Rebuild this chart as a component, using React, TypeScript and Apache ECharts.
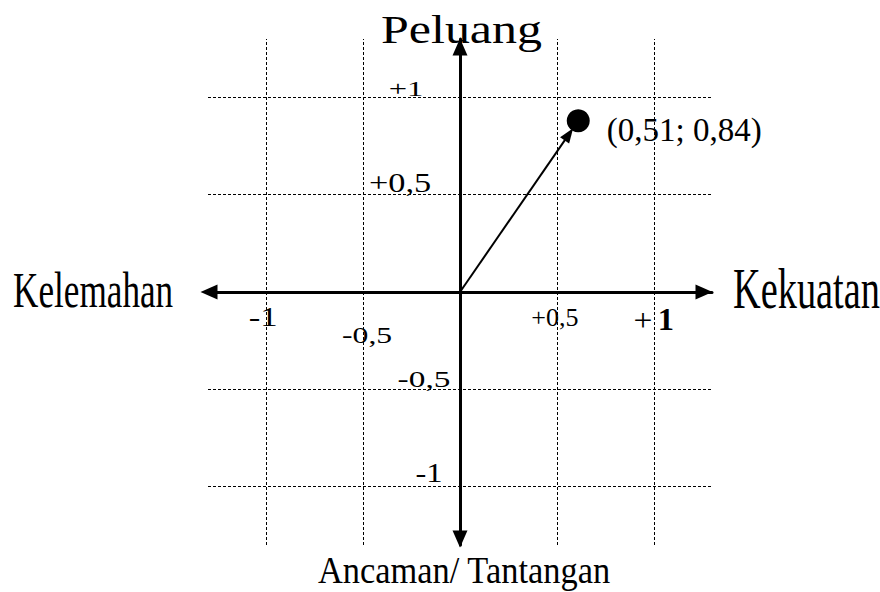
import React, { useEffect, useRef } from "react";
import * as echarts from "echarts";

// ---- data ----
const xTickValues = [-1, -0.5, 0.5, 1];
const xTickLabels = ["-1", "-0,5", "+0,5", "+1"];
const yTickValues = [1, 0.5, -0.5, -1];
const yTickLabels = ["+1", "+0,5", "-0,5", "-1"];
const gridXValues = [-1, -0.5, 0.5, 1];
const gridYValues = [-1, -0.5, 0.5, 1];
const pointX = 0.61;
const pointY = 0.88;
const pointLabel = "(0,51; 0,84)";
const nameTop = "Peluang";
const nameBottom = "Ancaman/ Tantangan";
const nameLeft = "Kelemahan";
const nameRight = "Kekuatan";

// ---- styles / layout ----
const FONT = '"Liberation Serif", "Times New Roman", serif';
const xTickOffsets = [[-3, 25], [4, 43], [-2, 26], [0, 28]];
const xTickSizes = [28, 24, 25, 30];
const xTickScale = [1.24, 1.32, 1.04, 1.05];
const yTickOffsets = [[-54, -8], [-60, -11], [-36, -10], [-31, -14]];
const yTickSizes = [21, 27, 23, 28];
const yTickScale = [1.55, 1.27, 1.45, 1.16];

export default function App() {
  const ref = useRef<HTMLDivElement>(null);
  useEffect(() => {
    if (!ref.current) return;
    const chart = echarts.init(ref.current, null, { renderer: "svg" });

    const markData: any[] = [];
    gridXValues.forEach((v) => markData.push({ xAxis: v }));
    gridYValues.forEach((v) => markData.push({ yAxis: v }));

    const option: any = {
      animation: false,
      backgroundColor: "#fff",
      grid: { left: 208, top: 39, width: 504, height: 506, containLabel: false },
      xAxis: {
        type: "value",
        min: -1.3,
        max: 1.3,
        axisLine: {
          onZero: true,
          lineStyle: { color: "#000", width: 3 },
          symbol: ["triangle", "triangle"],
          symbolSize: [15, 17],
          symbolOffset: [1, -8],
        },
        axisTick: { show: false },
        axisLabel: { show: false },
        splitLine: { show: false },
      },
      yAxis: {
        type: "value",
        min: -1.3,
        max: 1.3,
        axisLine: {
          onZero: true,
          lineStyle: { color: "#000", width: 3 },
          symbol: ["triangle", "triangle"],
          symbolSize: [15, 17],
          symbolOffset: [6, -8],
        },
        axisTick: { show: false },
        axisLabel: { show: false },
        splitLine: { show: false },
      },
      series: [
        {
          type: "custom",
          coordinateSystem: "cartesian2d",
          silent: true,
          z: 6,
          encode: { x: [0, 2], y: [1, 3] },
          data: [[0, 0, pointX, pointY]],
          renderItem: (params: any, api: any) => {
            const p0 = api.coord([api.value(0), api.value(1)]);
            const p1 = api.coord([api.value(2), api.value(3)]);
            const dx = p1[0] - p0[0];
            const dy = p1[1] - p0[1];
            const len = Math.hypot(dx, dy);
            const ux = dx / len;
            const uy = dy / len;
            const gap = 9;
            const head = 15;
            const half = 5.5;
            const tip = [p1[0] - ux * gap, p1[1] - uy * gap];
            const base = [tip[0] - ux * head, tip[1] - uy * head];
            const nx = -uy;
            const ny = ux;
            return {
              type: "group",
              children: [
                {
                  type: "line",
                  shape: { x1: p0[0], y1: p0[1], x2: base[0] + ux * 2, y2: base[1] + uy * 2 },
                  style: { stroke: "#000", lineWidth: 2 },
                },
                {
                  type: "polygon",
                  shape: {
                    points: [
                      tip,
                      [base[0] + nx * half, base[1] + ny * half],
                      [base[0] - nx * half, base[1] - ny * half],
                    ],
                  },
                  style: { fill: "#000" },
                },
              ],
            };
          },
        },
        {
          type: "scatter",
          symbol: "circle",
          symbolSize: 23,
          z: 7,
          silent: true,
          itemStyle: { color: "#000", opacity: 1 },
          label: {
            show: true,
            position: "right",
            distance: 17,
            offset: [0, 9],
            formatter: pointLabel,
            fontFamily: FONT,
            fontSize: 33,
            color: "#000",
          },
          data: [[pointX, pointY]],
          markLine: {
            silent: true,
            symbol: "none",
            label: { show: false },
            lineStyle: { color: "#000", width: 1, type: [3, 2], opacity: 1 },
            data: markData,
            z: 1,
          },
        },
      ],
    };
    chart.setOption(option);

    const graphics: any[] = [
      {
        type: "text",
        x: 381,
        y: 30,
        scaleX: 1.25,
        style: { text: nameTop, font: `40px ${FONT}`, fill: "#000", textAlign: "left", textVerticalAlign: "middle" },
      },
      {
        type: "text",
        x: 13,
        y: 290,
        scaleX: 0.69,
        style: { text: nameLeft, font: `51px ${FONT}`, fill: "#000", textAlign: "left", textVerticalAlign: "middle" },
      },
      {
        type: "text",
        x: 733,
        y: 288.5,
        scaleX: 0.685,
        style: { text: nameRight, font: `56px ${FONT}`, fill: "#000", textAlign: "left", textVerticalAlign: "middle" },
      },
      {
        type: "text",
        x: 318,
        y: 571,
        scaleX: 0.93,
        style: { text: nameBottom, font: `37px ${FONT}`, fill: "#000", textAlign: "left", textVerticalAlign: "middle" },
      },
    ];

    xTickValues.forEach((v, i) => {
      const p = chart.convertToPixel({ gridIndex: 0 }, [v, 0]) as number[];
      const isPlusOne = xTickLabels[i] === "+1";
      graphics.push({
        type: "text",
        x: p[0] + xTickOffsets[i][0],
        y: p[1] + xTickOffsets[i][1],
        scaleX: xTickScale[i],
        style: isPlusOne
          ? {
              text: "{p|+}{s| }{b|1}",
              rich: {
                p: { font: `32px ${FONT}`, fill: "#000" },
                s: { font: `20px ${FONT}`, fill: "#000" },
                b: { font: `bold 31px ${FONT}`, fill: "#000" },
              },
              textAlign: "center",
              textVerticalAlign: "middle",
            }
          : {
              text: xTickLabels[i],
              font: `${xTickSizes[i]}px ${FONT}`,
              fill: "#000",
              textAlign: "center",
              textVerticalAlign: "middle",
            },
      });
    });
    yTickValues.forEach((v, i) => {
      const p = chart.convertToPixel({ gridIndex: 0 }, [0, v]) as number[];
      graphics.push({
        type: "text",
        x: p[0] + yTickOffsets[i][0],
        y: p[1] + yTickOffsets[i][1],
        scaleX: yTickScale[i],
        style: {
          text: yTickLabels[i],
          font: `${yTickSizes[i]}px ${FONT}`,
          fill: "#000",
          textAlign: "center",
          textVerticalAlign: "middle",
        },
      });
    });

    chart.setOption({ graphic: graphics });
    return () => chart.dispose();
  }, []);
  return (
    <div
      ref={ref}
      style={{ position: "fixed", left: 0, top: 0, width: 880, height: 592, background: "#fff" }}
    />
  );
}
